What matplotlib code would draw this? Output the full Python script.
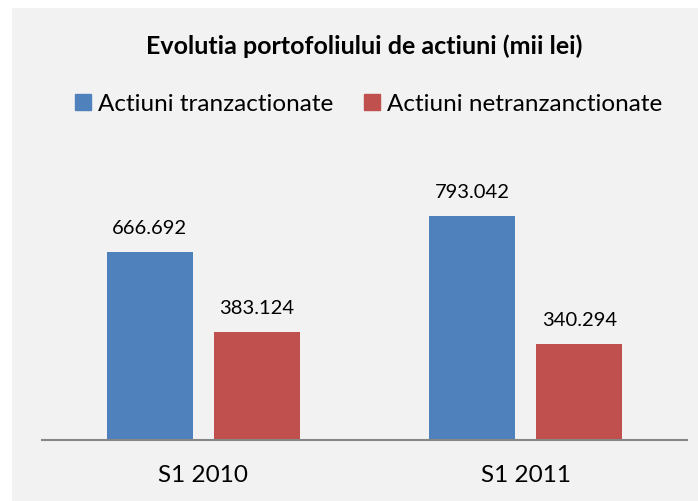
import matplotlib.pyplot as plt
from matplotlib.lines import Line2D
from matplotlib.patches import Rectangle
import numpy as np

plt.rcParams['font.family'] = ['Lato', 'DejaVu Sans']

categories = ['S1 2010', 'S1 2011']
tranzactionate = [666.692, 793.042]
netranzactionate = [383.124, 340.294]
labels = ['Actiuni tranzactionate', 'Actiuni netranzanctionate']
colors = ['#4F81BD', '#C0504D']

W, H = 698, 501
fig = plt.figure(figsize=(W / 100, H / 100), dpi=100, facecolor='white')

# light grey chart area
fig.patches.append(Rectangle((12 / W, 0), 1 - 12 / W, 1 - 8 / H, transform=fig.transFigure,
                             facecolor='#F2F2F2', edgecolor='none', zorder=-1))

ax = fig.add_axes([42 / W, 61 / H, 645 / W, 282 / H])
ax.set_facecolor('none')
ax.set_zorder(2)

x = np.arange(len(categories))
w = 0.267
off = 0.166
b1 = ax.bar(x - off, tranzactionate, w, color=colors[0])
b2 = ax.bar(x + off, netranzactionate, w, color=colors[1])

fmt = lambda v: f'{v:.3f}'
ax.bar_label(b1, labels=[fmt(v) for v in tranzactionate], padding=11, fontsize=14.5)
ax.bar_label(b2, labels=[fmt(v) for v in netranzactionate], padding=11, fontsize=14.5)

ax.set_xlim(-0.5, 1.5)
ax.set_ylim(0, 1000)
ax.set_xticks(x)
ax.set_xticklabels(categories, fontsize=17.5)
ax.tick_params(axis='x', length=0, pad=18)
ax.set_yticks([])
for s in ['top', 'left', 'right']:
    ax.spines[s].set_visible(False)
ax.spines['bottom'].set_color('#868686')
ax.spines['bottom'].set_linewidth(1.5)

fig.text(364 / W, 1 - 46 / H, 'Evolutia portofoliului de actiuni (mii lei)',
         ha='center', va='center', fontsize=18, fontweight='bold')

handles = [Line2D([], [], marker='s', linestyle='none', markersize=11, color=c) for c in colors]
fig.legend(handles, labels, loc='center', bbox_to_anchor=(369 / W, 1 - 104 / H), ncol=2,
           frameon=False, fontsize=17.5, handlelength=0.6, handletextpad=0.3,
           columnspacing=1.3, borderpad=0)

fig.savefig('out.png', dpi=100)
